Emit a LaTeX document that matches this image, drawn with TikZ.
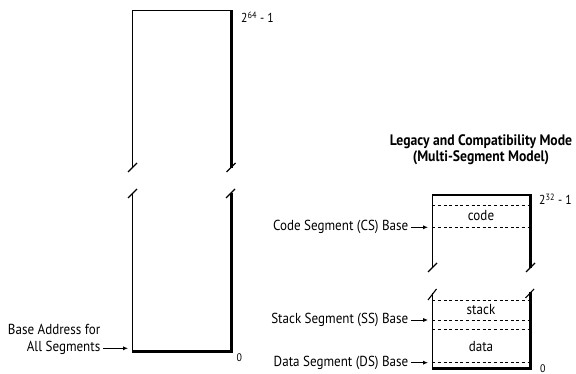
\documentclass[tikz,border=0pt]{standalone}
\usepackage{fontspec}
\setmainfont[FakeStretch=0.9]{PT Sans}
\usetikzlibrary{arrows.meta}
\begin{document}
\begin{tikzpicture}[x=1pt,y=-1pt,
  thinline/.style={line width=1.1pt},
  shadowline/.style={line width=3pt},
  dsh/.style={line width=0.9pt, dash pattern=on 3pt off 2.6pt},
  lbl/.style={font=\fontsize{14.5}{16.5}\selectfont, inner sep=0pt},
  small/.style={font=\fontsize{13}{14}\selectfont, inner sep=0pt},
  zero/.style={font=\fontsize{11}{12}\selectfont, inner sep=0pt},
  ttl/.style={font=\bfseries\fontsize{15.2}{15.5}\selectfont, inner sep=0pt},
  arr/.style={-{Latex[length=5pt,width=4.2pt]}, line width=0.9pt}]
\useasboundingbox (0,0) rectangle (576,374);

% ---------- left flat address space ----------
\draw[thinline] (231,10.7) -- (132.7,10.7) -- (132.7,167);
\draw[shadowline] (231,10.2) -- (231,168);
\draw[thinline] (128,172) -- (137,163);
\draw[thinline] (226.5,172) -- (235.5,163);
\draw[thinline] (128,198) -- (137,189);
\draw[thinline] (226,198) -- (235,189);
\draw[thinline] (132.7,193) -- (132.7,352);
\draw[shadowline] (231,193) -- (231,353);
\draw[shadowline] (132.2,351.5) -- (232.5,351.5);

\node[small, anchor=west] (top64) at (241,17.5) {2\textsuperscript{64} - 1};
\node[zero, anchor=west] (zeroL) at (236.5,357.5) {0};

\node[lbl, anchor=east, align=right] (base) at (100.5,339.5) {Base Address for\\All Segments};
\coordinate (baseS) at (103,348.3);
\coordinate (baseE) at (128,348.3);
\draw[arr] (baseS) -- (baseE);

% ---------- right legacy model ----------
\node[ttl, align=center] (title) at (481,149.5) {Legacy and Compatibility Mode\\(Multi-Segment Model)};

\draw[thinline] (530,195) -- (432.3,195) -- (432.3,267);
\draw[shadowline] (530,194.5) -- (530,268);
\draw[thinline] (428,272) -- (437,263);
\draw[thinline] (526,272) -- (535,263);
\draw[dsh] (432.3,205) -- (530,205);
\draw[dsh] (432.3,227.3) -- (530,227.3);
\node[lbl] (code) at (481,216) {code};
\node[small, anchor=west] (top32) at (539,199.5) {2\textsuperscript{32} - 1};

\draw[thinline] (428,300) -- (436.5,289);
\draw[thinline] (525.5,298) -- (534,289);
\draw[thinline] (432.3,293) -- (432.3,369);
\draw[shadowline] (530,292) -- (530,370);
\draw[shadowline] (431.8,368.6) -- (531.5,368.6);
\draw[dsh] (432.3,300.7) -- (530,300.7);
\draw[dsh] (432.3,320) -- (530,320);
\draw[dsh] (432.3,329) -- (530,329);
\draw[dsh] (432.3,362.7) -- (530,362.7);
\node[lbl] (stack) at (481,310) {stack};
\node[lbl] (data) at (481,346.5) {data};
\node[zero, anchor=west] (zeroR) at (540,368.5) {0};

\node[lbl, anchor=east] (cs) at (408.5,227.3) {Code Segment (CS) Base};
\node[lbl, anchor=east] (ss) at (408.5,320) {Stack Segment (SS) Base};
\node[lbl, anchor=east] (ds) at (408.5,362.7) {Data Segment (DS) Base};
\coordinate (csE) at (428,227.3);
\coordinate (ssE) at (428,320);
\coordinate (dsE) at (428,362.7);
\draw[arr] (cs.east) ++(2.5,0) -- (csE);
\draw[arr] (ss.east) ++(2.5,0) -- (ssE);
\draw[arr] (ds.east) ++(2.5,0) -- (dsE);
\end{tikzpicture}
\end{document}
